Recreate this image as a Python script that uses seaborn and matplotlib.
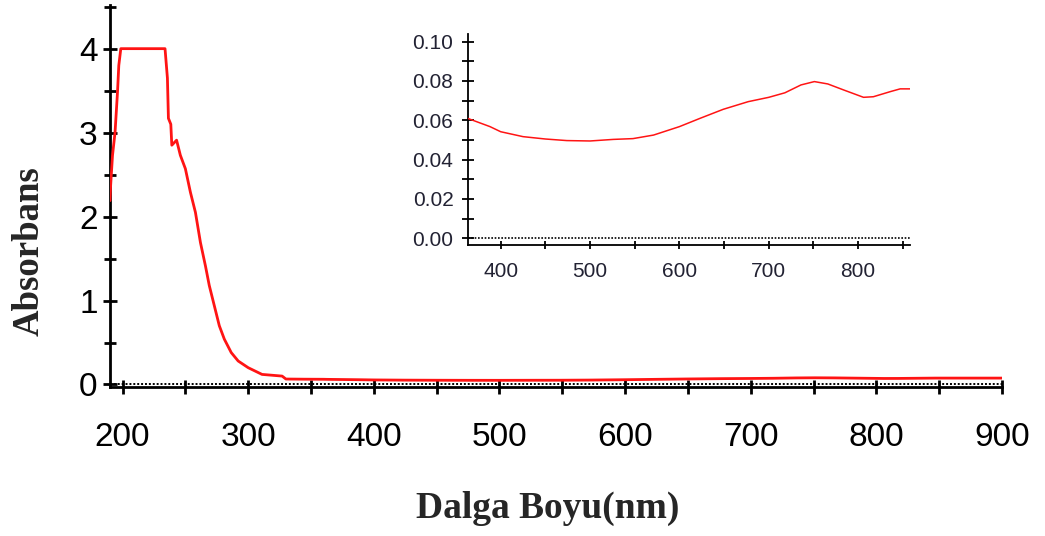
import numpy as np
import matplotlib
matplotlib.use("Agg")
import matplotlib.pyplot as plt
from matplotlib.ticker import MultipleLocator
import seaborn as sns

# ---- data ----
wl_uv = [190, 190.5, 192, 194, 196, 197, 198.6, 210, 222, 233.8, 235.7, 236.5,
         238.4, 239.2, 243, 246, 250, 254, 258, 262, 266, 269, 273, 277, 281,
         286.5, 292, 300, 311, 327, 330, 345, 360]
abs_uv = [2.19, 2.37, 2.73, 3.0, 3.49, 3.8, 4.0, 4.0, 4.0, 4.0, 3.65, 3.17,
          3.1, 2.85, 2.91, 2.73, 2.57, 2.29, 2.05, 1.69, 1.41, 1.18, 0.94, 0.70, 0.54,
          0.38, 0.28, 0.20, 0.12, 0.10, 0.065, 0.063, 0.062]

wl_vis = [363, 388, 400, 425, 450, 474, 500, 526, 548, 571, 600, 623, 649, 677,
          700, 718, 736, 751, 766, 784, 806, 817, 836, 847, 858, 880, 900]
abs_vis = [0.061, 0.0568, 0.0542, 0.0517, 0.0505, 0.0497, 0.0495, 0.0503, 0.0507,
           0.0525, 0.0568, 0.061, 0.0656, 0.0695, 0.0717, 0.074, 0.078, 0.0797,
           0.0785, 0.0754, 0.0717, 0.072, 0.0746, 0.076, 0.076, 0.076, 0.076]

main_xticks = [200, 300, 400, 500, 600, 700, 800, 900]
main_yticks = [0, 1, 2, 3, 4]
inset_xticks = [400, 500, 600, 700, 800]
inset_yticks = [0.00, 0.02, 0.04, 0.06, 0.08, 0.10]

wl_all = np.array(wl_uv + wl_vis, dtype=float)
abs_all = np.array(abs_uv + abs_vis, dtype=float)

sns.set_style("ticks")
plt.rcParams['font.family'] = ['Liberation Sans', 'DejaVu Sans']

RED = "#ff1414"
fig = plt.figure(figsize=(10.45, 5.36), dpi=100)

# ---- main axes ----
ax = fig.add_axes([110/1045, 1-387/536, (1002-110)/1045, (387-5)/536])
sns.lineplot(x=wl_all, y=abs_all, ax=ax, color=RED, lw=2.0, zorder=3)
ax.axhline(0, color="black", ls=(0, (1, 1)), lw=1.4, zorder=2)
ax.set_xlim(190, 900)
ax.set_ylim(-0.03, 4.52)
ax.xaxis.set_minor_locator(MultipleLocator(50))
ax.yaxis.set_minor_locator(MultipleLocator(0.5))
ax.set_xticks(main_xticks)
ax.set_xticklabels([str(t) for t in main_xticks])
ax.set_yticks(main_yticks)
ax.set_yticklabels([str(t) for t in main_yticks])
for s in ["top", "right"]:
    ax.spines[s].set_visible(False)
for s in ["left", "bottom"]:
    ax.spines[s].set_linewidth(2)
    ax.spines[s].set_color("black")
ax.tick_params(axis="both", which="both", direction="inout", width=2, color="black",
               labelsize=24, labelcolor="black")
ax.tick_params(axis="y", which="major", length=10, pad=4)
ax.tick_params(axis="y", which="minor", length=8)
ax.tick_params(axis="x", which="both", length=10, pad=20)
ax.set_xlabel("Dalga Boyu(nm)", fontsize=27, fontweight="bold",
              family=["Liberation Serif"])
ax.set_ylabel("Absorbans", fontsize=26.5, fontweight="bold",
              family=["Liberation Serif"])
ax.xaxis.set_label_coords((548-110)/892, (387-490.7)/382)
ax.yaxis.set_label_coords((47-110)/892, (387-251.5)/382)

# ---- inset axes ----
ia = fig.add_axes([468/1045, 1-245/536, (910-468)/1045, (245-34)/536])
mask = (wl_all >= 363) & (wl_all <= 858)
sns.lineplot(x=wl_all[mask], y=abs_all[mask], ax=ia, color=RED, lw=1.1, zorder=3)
ia.axhline(0, color="black", ls=(0, (1, 1)), lw=1.2, zorder=2)
ia.set_xlim(363.4, 858)
ia.set_ylim(-0.0034, 0.1039)
ia.xaxis.set_minor_locator(MultipleLocator(50))
ia.yaxis.set_minor_locator(MultipleLocator(0.01))
ia.set_xticks(inset_xticks)
ia.set_xticklabels([str(t) for t in inset_xticks])
ia.set_yticks(inset_yticks)
ia.set_yticklabels([f"{t:.2f}" for t in inset_yticks])
for s in ["top", "right"]:
    ia.spines[s].set_visible(False)
for s in ["left", "bottom"]:
    ia.spines[s].set_linewidth(1.3)
    ia.spines[s].set_color("black")
ia.patch.set_alpha(0)
ia.tick_params(axis="both", which="both", direction="inout", width=1.3, color="black",
               labelsize=15, labelcolor="#222233")
ia.tick_params(axis="y", which="both", length=9, pad=6)
ia.tick_params(axis="x", which="both", length=6, pad=9)

fig.savefig("out.png", dpi=100)
